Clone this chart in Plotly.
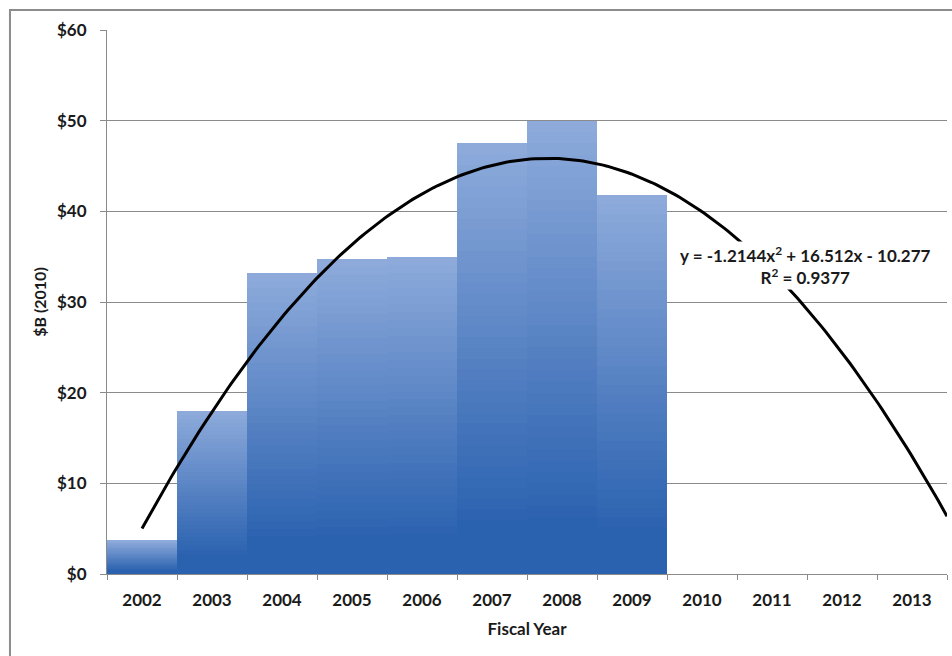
import numpy as np
import plotly.graph_objects as go

# Fiscal years on the category axis and annual spending ($B, 2010 dollars)
fiscal_years = ["2002", "2003", "2004", "2005", "2006", "2007",
                "2008", "2009", "2010", "2011", "2012", "2013"]
spending = [3.7, 18.0, 33.2, 34.7, 35.0, 47.5, 50.0, 41.8]

# Polynomial trendline coefficients (x = 1 for FY2002)
trend_a = -1.2144
trend_b = 16.512
trend_c = -10.277
trend_r2 = 0.9377

y_ticks = [0, 10, 20, 30, 40, 50, 60]
y_tick_labels = ["$0", "$10", "$20", "$30", "$40", "$50", "$60"]

FONT = "Lato"
GRID = "#8a8a8a"
DARK = np.array([43, 98, 176])
LIGHT = np.array([142, 171, 219])

fig = go.Figure()

# Each bar is built from thin stacked slices so it shades from dark at the
# base to light at the top, like a vertical gradient fill.
n_slices = 40
padded = spending + [None] * (len(fiscal_years) - len(spending))
for k in range(n_slices):
    t = (k + 0.5) / n_slices
    f = max(0.0, (t - 0.12) / 0.88)
    r, g, b = (DARK + (LIGHT - DARK) * f).round().astype(int)
    fig.add_trace(go.Bar(
        x=fiscal_years,
        y=[None if v is None else v / n_slices for v in padded],
        marker=dict(color=f"rgb({r},{g},{b})", line=dict(width=0)),
        width=1.0,
        showlegend=False,
        hoverinfo="skip",
    ))

# Trendline drawn on a hidden numeric axis aligned with the categories
xt = np.linspace(1, 12.5, 200)
yt = trend_a * xt ** 2 + trend_b * xt + trend_c
fig.add_trace(go.Scatter(
    x=xt, y=yt, xaxis="x2", mode="lines",
    line=dict(color="black", width=3),
    showlegend=False, hoverinfo="skip",
))

eq_text = (f"y = {trend_a}x<sup>2</sup> + {trend_b}x - {abs(trend_c)}"
           f"<br>R<sup>2</sup> = {trend_r2}")

fig.update_layout(
    width=952, height=656,
    margin=dict(l=107, r=5, t=30, b=82),
    paper_bgcolor="white", plot_bgcolor="white",
    barmode="stack", bargap=0,
    font=dict(family=FONT, size=17, color="#1a1a1a"),
    xaxis=dict(
        type="category",
        categoryorder="array", categoryarray=fiscal_years,
        range=[-0.5, len(fiscal_years) - 0.5],
        tickson="boundaries",
        ticks="outside", ticklen=5, tickcolor=GRID, tickwidth=1,
        showline=True, linecolor=GRID, linewidth=1,
        showgrid=False, zeroline=False,
        ticklabelstandoff=11,
        tickfont=dict(family=FONT, size=17, weight="bold"),
        title=dict(text="<b>Fiscal Year</b>", standoff=13,
                   font=dict(family=FONT, size=17)),
    ),
    xaxis2=dict(
        overlaying="x", range=[0.5, 12.5], visible=False,
    ),
    yaxis=dict(
        range=[0, 60], tickmode="array",
        tickvals=y_ticks, ticktext=y_tick_labels,
        ticks="outside", ticklen=6, tickcolor=GRID, tickwidth=1,
        showline=True, linecolor=GRID, linewidth=1,
        showgrid=True, gridcolor=GRID, gridwidth=1, zeroline=False,
        ticklabelstandoff=10,
        tickfont=dict(family=FONT, size=17, weight="bold"),
        title=dict(text="<b>$B (2010)</b>", standoff=6,
                   font=dict(family=FONT, size=16)),
    ),
    annotations=[dict(
        xref="paper", yref="paper", x=0.832, y=0.567,
        xanchor="center", yanchor="middle",
        text=f"<b>{eq_text}</b>", showarrow=False, align="center",
        font=dict(family=FONT, size=17, color="#1a1a1a"),
        bgcolor="white",
    )],
    shapes=[dict(
        type="rect", xref="paper", yref="paper",
        x0=-0.1155, y0=-0.3, x1=1.2, y1=1.0368,
        line=dict(color="#8c8c8c", width=2), layer="below",
    )],
)

fig.write_html("out.html")
